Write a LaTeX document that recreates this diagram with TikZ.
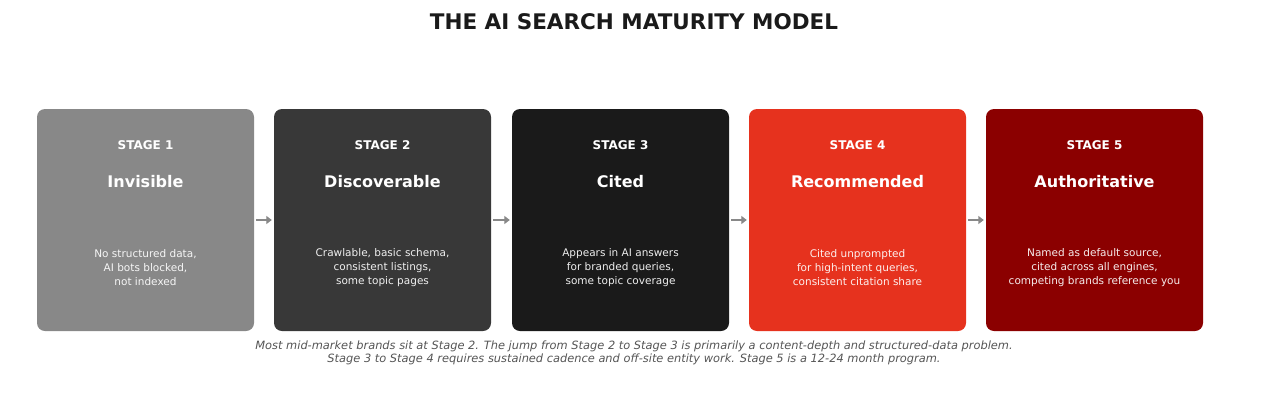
\documentclass[tikz,border=0pt]{standalone}
\usepackage{fontspec}
\setmainfont{DejaVu Sans}
\usetikzlibrary{arrows.meta}
\usetikzlibrary{positioning}
\definecolor{titleblack}{HTML}{1A1A1A}
\definecolor{notegray}{HTML}{555555}
\definecolor{arrowgray}{HTML}{888888}
\definecolor{stageone}{HTML}{888888}
\definecolor{stagetwo}{HTML}{383838}
\definecolor{stagethree}{HTML}{1A1A1A}
\definecolor{stagefour}{HTML}{E6321E}
\definecolor{stagefive}{HTML}{8B0000}

\begin{document}
\begin{tikzpicture}[x=1pt,y=-1pt]
  \tikzset{
    stagebox/.style={rounded corners=8pt,minimum width=217pt,minimum height=222pt,inner sep=0pt},
    stagelabel/.style={white,font=\bfseries\fontsize{12}{14}\selectfont},
    stagename/.style={white,font=\bfseries\fontsize{16}{19}\selectfont},
    stagetext/.style={white,text opacity=0.92,align=center,font=\fontsize{10.5}{14}\selectfont},
    stagearrow/.style={arrowgray,line width=2pt,-{Triangle[length=5.5pt,width=8pt]},shorten <=2pt,shorten >=2pt},
  }
  \useasboundingbox (0,0) rectangle (1268,410);
  %TITLE
  \node[titleblack,font=\bfseries\fontsize{21.5}{26}\selectfont] (title) at (634,22) {THE AI SEARCH MATURITY MODEL};
  %BOXES
  \foreach \x/\col [count=\i] in {145.5/stageone,382.5/stagetwo,620.5/stagethree,857.5/stagefour,1094.5/stagefive}{
    \node[stagebox,fill=\col] (s\i) at (\x,220) {};
    \node[stagelabel] (lab\i) at (\x,145) {STAGE \i};
  }
  %NAMES
  \foreach \name [count=\i] in {Invisible,Discoverable,Cited,Recommended,Authoritative}{
    \node[stagename] (name\i) at (s\i.center |- 0,181.5) {\name};
  }
  %DESCRIPTIONS
  \foreach \desc [count=\i] in {{No structured data,\\AI bots blocked,\\not indexed},
    {Crawlable, basic schema,\\consistent listings,\\some topic pages},
    {Appears in AI answers\\for branded queries,\\some topic coverage},
    {Cited unprompted\\for high-intent queries,\\consistent citation share},
    {Named as default source,\\cited across all engines,\\competing brands reference you}}{
    \node[stagetext] (desc\i) at (s\i.center |- 0,267.5) {\desc};
  }
  %ARROWS
  \foreach \i [evaluate=\i as \j using int(\i+1)] in {1,...,4}{
    \draw[stagearrow] (s\i.east) -- (s\j.west);
  }
  %NOTE
  \node[notegray,align=center,font=\itshape\fontsize{11.4}{13}\selectfont] (note) at (634,353)
    {Most mid-market brands sit at Stage 2. The jump from Stage 2 to Stage 3 is primarily a content-depth and structured-data problem.\\
     Stage 3 to Stage 4 requires sustained cadence and off-site entity work. Stage 5 is a 12-24 month program.};
\end{tikzpicture}
\end{document}
